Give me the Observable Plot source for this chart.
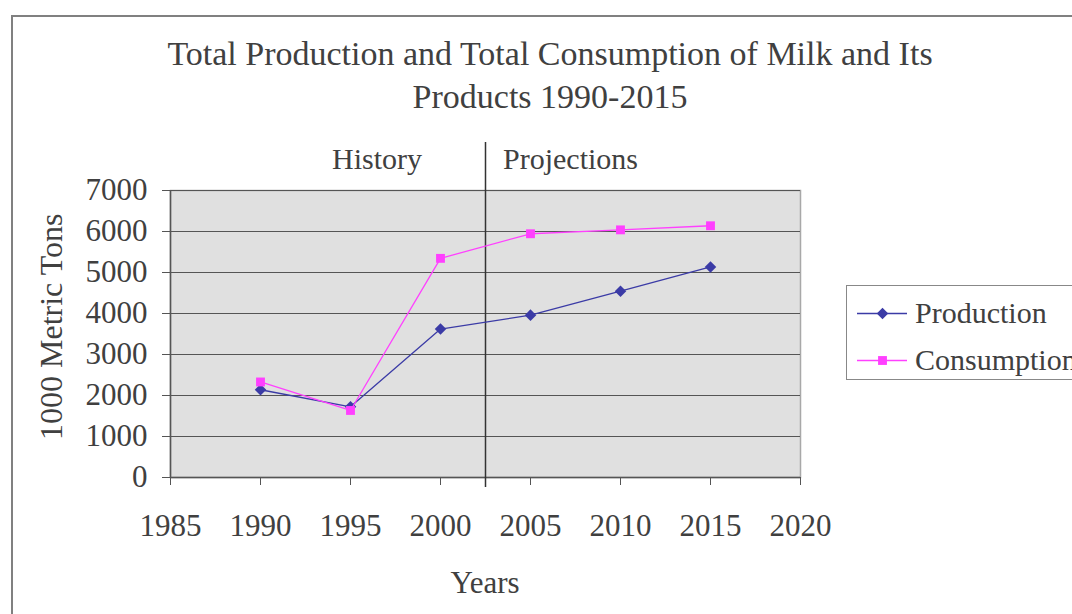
<!DOCTYPE html>
<html>
<head>
<meta charset="utf-8">
<script src="https://cdn.jsdelivr.net/npm/d3@7"></script>
<script src="https://cdn.jsdelivr.net/npm/@observablehq/plot@0.6"></script>
<style>
  html, body { margin: 0; padding: 0; background: #fff; overflow: hidden; }
  #wrap { position: relative; width: 1072px; height: 614px; font-family: "Liberation Serif", serif; color: #404040; }
  #border { position: absolute; left: 11px; top: 15px; width: 1100px; height: 700px; border: 2px solid #808080; box-sizing: border-box; }
  .t { position: absolute; white-space: nowrap; line-height: 1; font-family: "Liberation Serif", serif; }
  #chart { position: absolute; left: 0; top: 0; }
  #legend { position: absolute; left: 846px; top: 285px; width: 300px; height: 95px; border: 1.5px solid #888; box-sizing: border-box; background: #fff; }
</style>
</head>
<body>
<div id="wrap">
  <div id="border"></div>
  <div id="chart"></div>
  <div class="t" id="title" style="left:0;width:1100px;text-align:center;top:32px;font-size:34px;line-height:43px;"></div>
  <div class="t" id="hist" style="left:332px;top:144px;font-size:30px;"></div>
  <div class="t" id="proj" style="left:503px;top:144px;font-size:30px;"></div>
  <div class="t" id="xlabel" style="left:385px;width:200px;text-align:center;top:567px;font-size:31px;"></div>
  <div class="t" id="ylabel" style="left:-52px;width:200px;text-align:center;top:327px;font-size:32px;transform:rotate(-90deg);transform-origin:100px 13px;"></div>
  <div id="legend"></div>
</div>
<script>
const years = [1990, 1995, 2000, 2005, 2010, 2015];
const production = [2140, 1725, 3620, 3960, 4545, 5135];
const consumption = [2330, 1635, 5345, 5945, 6040, 6140];
const seriesNames = ["Production", "Consumption"];
const seriesColors = ["#3b3ba6", "#ff40ff"];
const xTicks = [1985, 1990, 1995, 2000, 2005, 2010, 2015, 2020];
const yTicks = [0, 1000, 2000, 3000, 4000, 5000, 6000, 7000];
const dividerYear = 2002.5;
const titleLines = ["Total Production and Total Consumption of Milk and Its", "Products 1990-2015"];
const periodLabels = ["History", "Projections"];
const xLabel = "Years";
const yLabel = "1000 Metric Tons";

const prodData = years.map((y, i) => ({year: y, value: production[i]}));
const consData = years.map((y, i) => ({year: y, value: consumption[i]}));

const chart = Plot.plot({
  width: 1072,
  height: 614,
  marginTop: 190,
  marginBottom: 137,
  marginLeft: 170,
  marginRight: 272,
  x: {domain: [1985, 2020]},
  y: {domain: [0, 7000]},
  style: {fontFamily: "Liberation Serif", color: "#404040", background: "transparent", overflow: "visible"},
  marks: [
    Plot.frame({fill: "#e0e0e0", stroke: "#a8a8a8", strokeWidth: 1.5}),
    Plot.gridY(yTicks, {stroke: "#555", strokeOpacity: 1, strokeWidth: 1.2}),
    Plot.axisY(yTicks, {tickSize: 8, tickPadding: 15, fontSize: 31, tickFormat: d => String(d), label: null, stroke: "#555", color: "#404040"}),
    Plot.axisX(xTicks, {tickSize: 8, tickPadding: 28, fontSize: 31, tickFormat: d => String(d), label: null, stroke: "#555", color: "#404040"}),
    Plot.ruleY([0], {stroke: "#555", strokeWidth: 1.5}),
    Plot.ruleX([1985], {stroke: "#555", strokeWidth: 1.5}),
    Plot.ruleX([dividerYear], {stroke: "#333", strokeWidth: 1.5, insetTop: -48, insetBottom: -10}),
    Plot.line(prodData, {x: "year", y: "value", stroke: seriesColors[0], strokeWidth: 1.3}),
    Plot.dot(prodData, {x: "year", y: "value", symbol: "square", rotate: 45, r: 4.6, fill: seriesColors[0]}),
    Plot.line(consData, {x: "year", y: "value", stroke: seriesColors[1], strokeWidth: 1.3}),
    Plot.dot(consData, {x: "year", y: "value", symbol: "square", r: 5, fill: seriesColors[1]})
  ]
});
document.getElementById("chart").appendChild(chart);

document.getElementById("title").innerHTML = titleLines.join("<br>");
document.getElementById("hist").textContent = periodLabels[0];
document.getElementById("proj").textContent = periodLabels[1];
document.getElementById("xlabel").textContent = xLabel;
document.getElementById("ylabel").textContent = yLabel;

// legend
const lg = document.getElementById("legend");
const rot = [45, 0];
const rad = [4.6, 5];
seriesNames.forEach((name, i) => {
  const row = document.createElement("div");
  row.style.cssText = `position:absolute;left:10px;top:${10 + i * 47}px;height:34px;display:flex;align-items:center;white-space:nowrap;`;
  const sw = Plot.plot({
    width: 50, height: 20, margin: 0,
    x: {domain: [0, 1], axis: null}, y: {domain: [0, 1], axis: null},
    style: {background: "transparent", overflow: "visible"},
    marks: [
      Plot.ruleY([0.5], {stroke: seriesColors[i], strokeWidth: 1.3}),
      Plot.dot([0.5], {x: d => d, y: 0.5, symbol: "square", rotate: rot[i], r: rad[i], fill: seriesColors[i]})
    ]
  });
  sw.style.display = "block";
  const label = document.createElement("span");
  label.textContent = name;
  label.style.cssText = "font-size:30px;margin-left:8px;line-height:1;font-family:'Liberation Serif',serif;";
  row.appendChild(sw);
  row.appendChild(label);
  lg.appendChild(row);
});
</script>
</body>
</html>
